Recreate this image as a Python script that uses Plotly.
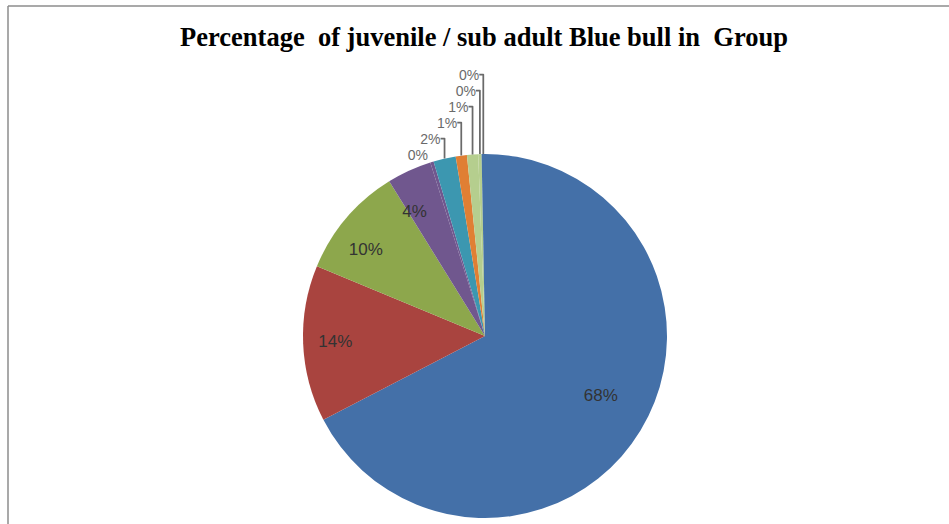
import plotly.graph_objects as go

categories = ["Group A", "Group B", "Group C", "Group D", "Group E",
              "Group F", "Group G", "Group H", "Group I", "Group J"]
values = [68, 14, 10, 4, 0.3, 2, 1, 1, 0.3, 0.3]
labels_text = ["68%", "14%", "10%", "4%", "0%", "2%", "1%", "1%", "0%", "0%"]
colors = ["#4470A8", "#A9443F", "#8DA74C", "#70578E", "#70578E",
          "#3C97B0", "#E07F34", "#B5CE8E", "#B5CE8E", "#4470A8"]

W, H = 949, 524
cx, cy, r = 485, 336, 182

def dom(rad):
    return dict(x=[(cx - rad) / W, (cx + rad) / W],
                y=[(H - cy - rad) / H, (H - cy + rad) / H])

clear = ["rgba(0,0,0,0)"] * len(values)
font_in = dict(family="Liberation Sans", size=17, color="#333333")
font_out = dict(family="Liberation Sans", size=14, color="#6a6a6a")

def only(idx):
    return [t if i in idx else "" for i, t in enumerate(labels_text)]

common = dict(labels=categories, values=values, sort=False, direction="clockwise",
              rotation=0, showlegend=False, hoverinfo="skip", textinfo="text")

fig = go.Figure()
# coloured slices
fig.add_trace(go.Pie(**common, text=[""] * len(values),
                     marker=dict(colors=colors, line=dict(width=0)), domain=dom(r)))
# labels of the large slices (placed inside the pie)
fig.add_trace(go.Pie(**common, text=only({0}), textposition="outside",
                     outsidetextfont=font_in,
                     marker=dict(colors=clear, line=dict(width=0)), domain=dom(110)))
fig.add_trace(go.Pie(**common, text=only({1, 2, 3}), textposition="outside",
                     outsidetextfont=font_in,
                     marker=dict(colors=clear, line=dict(width=0)), domain=dom(128)))
# labels of the small slices (outside the pie)
fig.add_trace(go.Pie(**common, text=only({4, 5, 6, 7, 8, 9}), textposition="outside",
                     outsidetextfont=font_out,
                     marker=dict(colors=clear, line=dict(width=0)), domain=dom(r)))

fig.update_layout(
    width=W, height=H,
    margin=dict(l=0, r=0, t=0, b=0),
    paper_bgcolor="white",
    title=dict(text="<b>Percentage  of juvenile / sub adult Blue bull in  Group</b>",
               x=484 / W, xanchor="center", y=1 - 37 / H, yanchor="middle",
               font=dict(family="Liberation Serif", size=26.5, color="#000000")),
    shapes=[
        dict(type="line", xref="paper", yref="paper",
             x0=8 / W, x1=1.0, y0=1 - 6 / H, y1=1 - 6 / H,
             line=dict(color="#8c8c8c", width=1.5)),
        dict(type="line", xref="paper", yref="paper",
             x0=8 / W, x1=8 / W, y0=0.0, y1=1 - 6 / H,
             line=dict(color="#8c8c8c", width=1.5)),
    ],
)

fig.write_html("out.html")
